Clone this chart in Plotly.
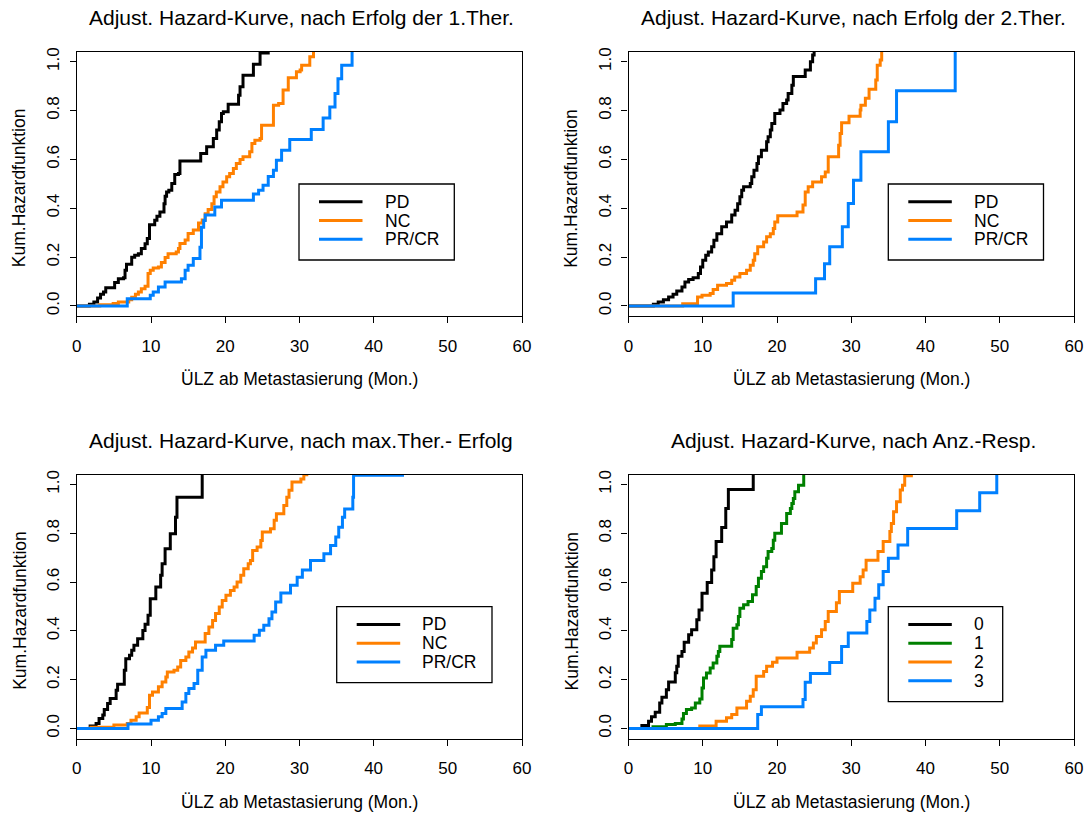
import plotly.graph_objects as go

# ---------------- data ----------------
TITLES = [
    "Adjust. Hazard-Kurve, nach Erfolg der 1.Ther.",
    "Adjust. Hazard-Kurve, nach Erfolg der 2.Ther.",
    "Adjust. Hazard-Kurve, nach max.Ther.- Erfolg",
    "Adjust. Hazard-Kurve, nach Anz.-Resp.",
]
X_LABEL = "ÜLZ ab Metastasierung (Mon.)"
Y_LABEL = "Kum.Hazardfunktion"
X_TICKS = [0, 10, 20, 30, 40, 50, 60]
Y_TICKS = [0.0, 0.2, 0.4, 0.6, 0.8, 1.0]
GROUPS_A = ["PD", "NC", "PR/CR"]
GROUPS_B = ["0", "1", "2", "3"]

# Panel 1: nach Erfolg der 1.Ther.
P1_PD_X = [0, 1.7, 2.3, 2.8, 3.2, 3.6, 3.9, 5.1, 5.6, 6.3, 6.5, 6.7, 7.4, 7.8, 8.3, 8.7, 9.2, 9.5, 9.8,
           10.5, 10.8, 11.2, 11.75, 11.9, 12.1, 12.4, 12.8, 13.2, 13.7, 13.9, 16.7, 17.5, 18.4, 18.85,
           19.2, 19.5, 19.75, 20.4, 21.8, 22.0, 22.4, 23.8, 24.7, 26.0]
P1_PD_Y = [0, 0.007, 0.016, 0.033, 0.048, 0.057, 0.075, 0.096, 0.112, 0.116, 0.146, 0.171, 0.2, 0.208,
           0.214, 0.235, 0.255, 0.276, 0.333, 0.351, 0.367, 0.385, 0.419, 0.449, 0.467, 0.474, 0.501,
           0.538, 0.542, 0.594, 0.624, 0.652, 0.686, 0.72, 0.754, 0.788, 0.795, 0.826, 0.863, 0.898,
           0.945, 0.99, 1.036, 1.036]
P1_NC_X = [0, 3.1, 4.9, 5.6, 7.0, 7.4, 7.9, 8.3, 8.7, 9.2, 9.6, 9.9, 10.3, 11.0, 11.4, 11.9, 12.3, 13.4,
           13.7, 13.9, 14.6, 15.0, 15.7, 16.4, 16.9, 17.3, 17.7, 18.2, 18.5, 18.8, 19.3, 19.7, 20.2, 20.6,
           21.1, 21.5, 22.0, 22.4, 23.3, 23.6, 24.0, 24.7, 24.9, 26.5, 27.2, 27.8, 28.5, 29.6, 30.1, 30.3,
           31.4, 31.9, 32.1]
P1_NC_Y = [0, 0.005, 0.01, 0.016, 0.026, 0.036, 0.048, 0.057, 0.071, 0.081, 0.133, 0.146, 0.156, 0.16,
           0.178, 0.198, 0.214, 0.221, 0.235, 0.256, 0.27, 0.297, 0.311, 0.34, 0.352, 0.378, 0.395, 0.419,
           0.447, 0.467, 0.488, 0.508, 0.529, 0.542, 0.563, 0.583, 0.6, 0.611, 0.631, 0.665, 0.679, 0.686,
           0.74, 0.822, 0.829, 0.884, 0.934, 0.959, 0.966, 0.986, 1.02, 1.04, 1.04]
P1_PR_X = [0, 6.8, 9.9, 10.3, 11.0, 11.9, 14.1, 14.6, 15.0, 15.7, 16.6, 16.8, 17.1, 17.3, 18.6, 19.5,
           23.8, 24.5, 25.1, 25.8, 26.5, 26.9, 27.6, 28.7, 31.6, 33.2, 34.1, 34.8, 35.2, 35.7, 37.1]
P1_PR_Y = [0, 0.03, 0.044, 0.057, 0.078, 0.098, 0.112, 0.146, 0.167, 0.194, 0.24, 0.322, 0.35, 0.372,
           0.405, 0.433, 0.458, 0.474, 0.494, 0.53, 0.556, 0.597, 0.638, 0.682, 0.723, 0.77, 0.815, 0.87,
           0.93, 0.986, 1.06]

# Panel 2: nach Erfolg der 2.Ther.
P2_PD_X = [0, 3.35, 4.0, 4.7, 5.4, 6.0, 6.5, 7.2, 7.6, 8.1, 8.7, 9.4, 9.7, 10.0, 10.4, 10.75, 11.2, 11.5,
           11.9, 12.55, 13.2, 13.9, 14.35, 14.7, 15.0, 15.25, 15.5, 16.4, 16.6, 16.9, 17.3, 17.5, 17.9,
           18.6, 18.8, 19.1, 19.3, 19.7, 20.4, 20.8, 21.3, 21.5, 22.0, 22.2, 23.8, 24.5, 24.8, 25.0]
P2_PD_Y = [0, 0.007, 0.016, 0.026, 0.037, 0.048, 0.061, 0.078, 0.098, 0.108, 0.116, 0.133, 0.16, 0.187,
           0.208, 0.221, 0.242, 0.269, 0.296, 0.324, 0.344, 0.372, 0.392, 0.419, 0.447, 0.474, 0.488,
           0.501, 0.529, 0.556, 0.583, 0.611, 0.638, 0.672, 0.693, 0.72, 0.747, 0.788, 0.802, 0.829,
           0.843, 0.87, 0.904, 0.939, 0.966, 1.0, 1.027, 1.06]
P2_NC_X = [0, 7.3, 9.3, 9.9, 11.0, 11.4, 12.0, 13.2, 13.9, 14.3, 15.0, 15.9, 16.4, 16.8, 17.0, 17.4,
           18.2, 18.6, 19.1, 19.5, 19.7, 20.1, 22.7, 23.5, 23.8, 24.2, 24.8, 26.0, 26.5, 26.9, 28.3, 28.5,
           28.7, 29.7, 31.2, 31.3, 31.9, 32.4, 33.3, 33.5, 33.9, 34.1]
P2_NC_Y = [0, 0.009, 0.037, 0.044, 0.051, 0.067, 0.085, 0.092, 0.105, 0.119, 0.133, 0.146, 0.167, 0.187,
           0.214, 0.242, 0.262, 0.283, 0.296, 0.317, 0.344, 0.369, 0.385, 0.413, 0.467, 0.488, 0.508,
           0.529, 0.549, 0.611, 0.658, 0.706, 0.75, 0.777, 0.802, 0.822, 0.85, 0.887, 0.925, 0.986,
           1.007, 1.06]
P2_PR_X = [0, 14.1, 25.2, 26.4, 27.1, 28.8, 29.6, 30.3, 31.3, 35.0, 36.1, 44.0]
P2_PR_Y = [0, 0.053, 0.111, 0.173, 0.242, 0.324, 0.42, 0.515, 0.631, 0.754, 0.881, 1.06]

# Panel 3: nach max.Ther.- Erfolg
P3_PD_X = [0, 1.8, 2.6, 3.0, 3.5, 3.7, 4.15, 4.5, 5.3, 5.5, 6.4, 6.6, 7.1, 7.4, 7.7, 8.2, 8.9, 9.2, 9.6,
           9.9, 10.65, 11.3, 11.5, 11.9, 12.6, 13.3, 13.5, 16.9]
P3_PD_Y = [0, 0.01, 0.02, 0.041, 0.055, 0.078, 0.102, 0.123, 0.157, 0.181, 0.239, 0.286, 0.3, 0.321,
           0.341, 0.368, 0.402, 0.427, 0.464, 0.532, 0.58, 0.628, 0.675, 0.737, 0.798, 0.866, 0.948, 1.06]
P3_NC_X = [0, 1.9, 5.0, 6.8, 7.3, 8.0, 8.4, 9.5, 9.8, 10.2, 11.0, 11.5, 12.0, 12.2, 13.1, 13.6, 14.0,
           14.7, 15.1, 15.6, 16.0, 17.3, 17.8, 18.3, 18.7, 19.2, 19.6, 20.1, 20.7, 21.2, 21.6, 22.1, 22.5,
           23.1, 23.4, 23.7, 24.3, 24.8, 25.0, 26.1, 26.6, 26.9, 27.9, 28.3, 28.6, 29.0, 30.2, 30.6, 31.2]
P3_NC_Y = [0, 0.005, 0.014, 0.02, 0.034, 0.048, 0.064, 0.086, 0.136, 0.15, 0.171, 0.191, 0.211, 0.232,
           0.239, 0.252, 0.279, 0.293, 0.314, 0.33, 0.355, 0.389, 0.416, 0.443, 0.471, 0.498, 0.525,
           0.546, 0.566, 0.58, 0.6, 0.628, 0.655, 0.675, 0.689, 0.73, 0.744, 0.771, 0.805, 0.819, 0.853,
           0.88, 0.914, 0.948, 0.976, 1.01, 1.023, 1.04, 1.04]
P3_PR_X = [0, 6.9, 10.0, 11.0, 11.5, 12.0, 14.2, 14.7, 15.1, 15.8, 16.3, 16.9, 17.4, 18.7, 19.8, 23.9,
           24.6, 25.2, 25.9, 26.3, 26.8, 27.5, 28.8, 29.7, 30.4, 31.5, 33.3, 34.2, 34.9, 35.3, 35.8, 36.1,
           37.2, 37.3, 44.1]
P3_PR_Y = [0, 0.018, 0.034, 0.048, 0.061, 0.082, 0.109, 0.143, 0.164, 0.184, 0.239, 0.293, 0.321, 0.341,
           0.359, 0.382, 0.403, 0.423, 0.45, 0.477, 0.518, 0.555, 0.587, 0.62, 0.65, 0.689, 0.716, 0.75,
           0.785, 0.825, 0.866, 0.9, 0.948, 1.038, 1.038]

# Panel 4: nach Anz.-Resp.
P4_G0_X = [0, 1.8, 2.7, 3.1, 3.6, 4.2, 4.5, 5.1, 5.4, 6.3, 6.5, 6.7, 7.2, 7.5, 8.1, 8.5, 9.2, 9.5, 9.9,
           10.6, 11.2, 11.5, 11.8, 12.55, 13.1, 13.45, 16.8]
P4_G0_Y = [0, 0.012, 0.03, 0.048, 0.067, 0.105, 0.128, 0.159, 0.191, 0.228, 0.255, 0.296, 0.316, 0.353,
           0.384, 0.405, 0.446, 0.486, 0.554, 0.598, 0.65, 0.704, 0.766, 0.824, 0.902, 0.98, 1.06]
P4_G1_X = [0, 3.3, 5.1, 6.3, 7.2, 7.4, 7.8, 8.5, 9.0, 9.6, 9.9, 10.1, 10.5, 11.0, 11.4, 11.9, 12.1, 12.3,
           13.9, 14.1, 14.6, 14.8, 15.0, 15.5, 16.1, 16.7, 17.2, 17.5, 17.9, 18.2, 18.6, 18.8, 19.3, 19.5,
           19.7, 20.6, 21.3, 21.8, 22.0, 22.2, 22.4, 22.9, 23.6]
P4_G1_Y = [0, 0.007, 0.016, 0.02, 0.039, 0.061, 0.078, 0.084, 0.104, 0.121, 0.166, 0.207, 0.227, 0.248,
           0.268, 0.296, 0.316, 0.337, 0.365, 0.411, 0.425, 0.459, 0.493, 0.507, 0.52, 0.548, 0.582,
           0.616, 0.643, 0.663, 0.698, 0.725, 0.738, 0.772, 0.8, 0.84, 0.881, 0.902, 0.922, 0.943, 0.97,
           0.997, 1.06]
P4_G2_X = [0, 9.6, 11.8, 13.2, 13.9, 14.6, 15.9, 16.4, 16.8, 17.2, 18.2, 18.6, 19.4, 20.0, 22.7, 24.4,
           24.9, 25.3, 26.0, 26.5, 26.9, 28.0, 28.4, 30.2, 31.2, 31.6, 32.0, 33.6, 34.3, 35.2, 35.4, 35.7,
           36.1, 36.6, 36.9, 37.2, 38.3]
P4_G2_Y = [0, 0.01, 0.03, 0.044, 0.057, 0.084, 0.112, 0.132, 0.159, 0.214, 0.234, 0.255, 0.271, 0.289,
           0.312, 0.33, 0.35, 0.377, 0.405, 0.439, 0.48, 0.515, 0.561, 0.595, 0.622, 0.65, 0.69, 0.725,
           0.766, 0.807, 0.84, 0.888, 0.929, 0.977, 0.997, 1.036, 1.036]
P4_G3_X = [0, 17.4, 17.9, 23.5, 23.8, 24.5, 27.1, 28.7, 29.6, 32.1, 32.5, 33.2, 33.7, 34.3, 35.0, 36.3,
           37.6, 44.2, 47.3, 49.6]
P4_G3_Y = [0, 0.057, 0.089, 0.119, 0.19, 0.225, 0.27, 0.336, 0.391, 0.439, 0.486, 0.534, 0.589, 0.643,
           0.698, 0.752, 0.82, 0.892, 0.966, 1.06]

COLORS_A = ["#000000", "#FF8000", "#0080FF"]
COLORS_B = ["#000000", "#008000", "#FF8000", "#0080FF"]

PANELS = [
    (TITLES[0], GROUPS_A, COLORS_A, [(P1_PD_X, P1_PD_Y), (P1_NC_X, P1_NC_Y), (P1_PR_X, P1_PR_Y)]),
    (TITLES[1], GROUPS_A, COLORS_A, [(P2_PD_X, P2_PD_Y), (P2_NC_X, P2_NC_Y), (P2_PR_X, P2_PR_Y)]),
    (TITLES[2], GROUPS_A, COLORS_A, [(P3_PD_X, P3_PD_Y), (P3_NC_X, P3_NC_Y), (P3_PR_X, P3_PR_Y)]),
    (TITLES[3], GROUPS_B, COLORS_B, [(P4_G0_X, P4_G0_Y), (P4_G1_X, P4_G1_Y), (P4_G2_X, P4_G2_Y),
                                     (P4_G3_X, P4_G3_Y)]),
]

# ---------------- layout geometry (pixels) ----------------
W, H = 1090, 815
FONT = "Liberation Sans, Arial, Helvetica, sans-serif"
BOX_X = [(76.8, 522.0), (628.5, 1074.0), (76.8, 522.0), (628.5, 1074.0)]
BOX_Y = [(51.7, 316.0), (51.7, 316.0), (474.5, 738.5), (474.5, 738.5)]
LEGEND_BOX = [(299.0, 184.0, 454.3, 260.0), (888.3, 184.0, 1043.5, 260.0),
              (336.7, 606.7, 492.0, 682.7), (888.3, 606.7, 1002.7, 701.7)]
LEG_ROW0 = 17.7
LEG_ROW_STEP = 18.8


def px(xp):
    return xp / W


def py(yp):
    return 1 - yp / H


fig = go.Figure()
layout = dict(
    width=W, height=H,
    margin=dict(l=0, r=0, t=0, b=0),
    paper_bgcolor="white", plot_bgcolor="white",
    showlegend=False,
    font=dict(family=FONT, size=17, color="black"),
    annotations=[], shapes=[],
    template="none",
)

for i, (title, groups, colors, series) in enumerate(PANELS):
    k = "" if i == 0 else str(i + 1)
    xa, ya = "x" + k, "y" + k
    for name, col, (xs, ys) in zip(groups, colors, series):
        fig.add_trace(go.Scatter(x=xs, y=ys, mode="lines", name=name, line_shape="hv",
                                 line=dict(color=col, width=3), xaxis=xa, yaxis=ya,
                                 showlegend=False))
    x0, x1 = BOX_X[i]
    y0, y1 = BOX_Y[i]
    layout["xaxis" + k] = dict(
        domain=[px(x0), px(x1)], anchor=ya, range=[0, 60], tickvals=X_TICKS,
        showline=True, mirror=True, linecolor="black", linewidth=1.2,
        ticks="outside", ticklen=6, tickwidth=1.2, tickcolor="black",
        showgrid=False, zeroline=False, automargin=False, ticklabelstandoff=8,
        tickfont=dict(family=FONT, size=17, color="black"),
    )
    layout["yaxis" + k] = dict(
        domain=[py(y1), py(y0)], anchor=xa, range=[-0.041, 1.041], tickvals=Y_TICKS,
        tickformat=".1f", tickangle=-90,
        showline=True, mirror=True, linecolor="black", linewidth=1.2,
        ticks="outside", ticklen=6, tickwidth=1.2, tickcolor="black",
        showgrid=False, zeroline=False, automargin=False, ticklabelstandoff=4,
        tickfont=dict(family=FONT, size=17, color="black"),
    )
    cx = (x0 + x1) / 2
    layout["annotations"].append(dict(
        text=title, x=px(cx + 2), y=py(y0 - 34), xref="paper", yref="paper",
        xanchor="center", yanchor="middle", showarrow=False,
        font=dict(family=FONT, size=21, color="black")))
    layout["annotations"].append(dict(
        text=X_LABEL, x=px(cx), y=py(y1 + 63), xref="paper", yref="paper",
        xanchor="center", yanchor="middle", showarrow=False,
        font=dict(family=FONT, size=17.5, color="black")))
    layout["annotations"].append(dict(
        text=Y_LABEL, x=px(x0 - 57.5), y=py((y0 + y1) / 2 + 4), xref="paper", yref="paper",
        xanchor="center", yanchor="middle", textangle=-90, showarrow=False,
        font=dict(family=FONT, size=17.5, color="black")))

    # legend box drawn in R style
    lx0, ly0, lx1, ly1 = LEGEND_BOX[i]
    layout["shapes"].append(dict(type="rect", xref="paper", yref="paper",
                                 x0=px(lx0), x1=px(lx1), y0=py(ly1), y1=py(ly0),
                                 line=dict(color="black", width=1.3), fillcolor="white"))
    for j, (name, col) in enumerate(zip(groups, colors)):
        ry = ly0 + LEG_ROW0 + j * LEG_ROW_STEP
        layout["shapes"].append(dict(type="line", xref="paper", yref="paper",
                                     x0=px(lx0 + 20), x1=px(lx0 + 63.5), y0=py(ry), y1=py(ry),
                                     line=dict(color=col, width=3)))
        layout["annotations"].append(dict(
            text=name, x=px(lx0 + 83.5), y=py(ry), xref="paper", yref="paper",
            xanchor="left", yanchor="middle", showarrow=False,
            font=dict(family=FONT, size=17.5, color="black")))

fig.update_layout(**layout)
fig.write_html("out.html")
